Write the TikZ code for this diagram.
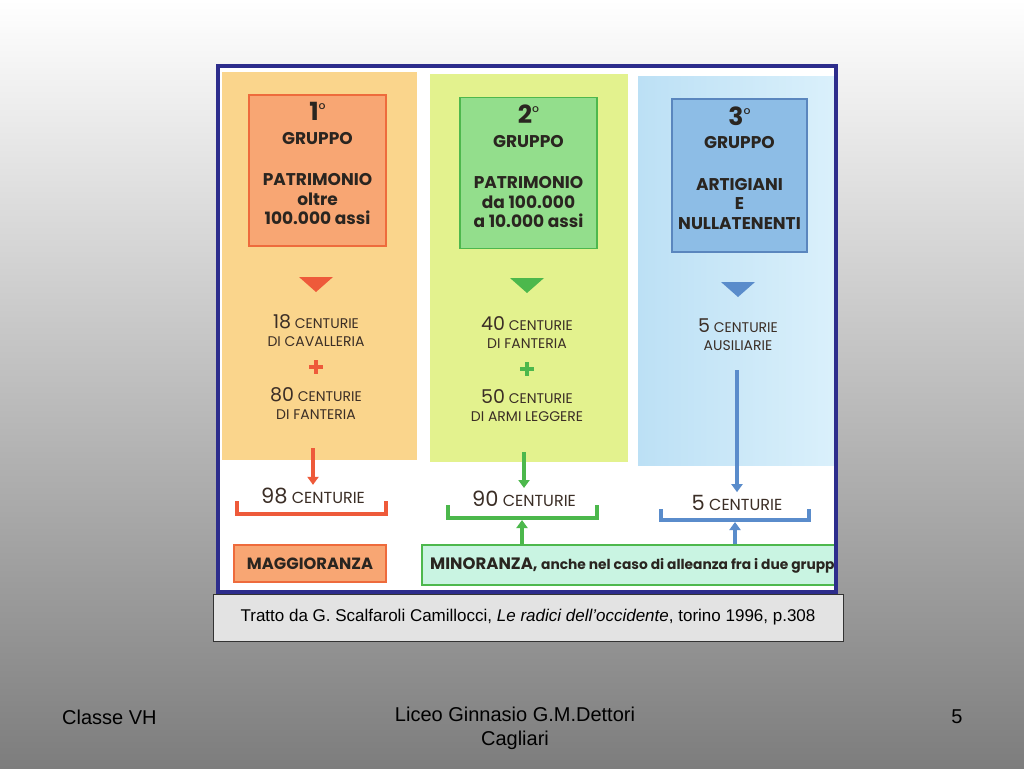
\documentclass[tikz,border=0pt]{standalone}
\usepackage{fontspec}
\setmainfont{Liberation Sans}
\newfontfamily\pop{Poppins}
\usetikzlibrary{arrows.meta}
\definecolor{bgbot}{HTML}{7D7D7D}
\definecolor{navyf}{HTML}{2D2D8C}
\definecolor{orcol}{HTML}{FAD58C}
\definecolor{orbox}{HTML}{F8A673}
\definecolor{orline}{HTML}{EE6B3C}
\definecolor{orsym}{HTML}{EE5A3A}
\definecolor{grcol}{HTML}{E3F28E}
\definecolor{grbox}{HTML}{93DE8C}
\definecolor{grline}{HTML}{4DB84D}
\definecolor{grsym}{HTML}{4CB84C}
\definecolor{blcol}{HTML}{BCE0F5}
\definecolor{blcolr}{HTML}{DAF0FB}
\definecolor{blbox}{HTML}{8DBDE6}
\definecolor{blline}{HTML}{5A86BE}
\definecolor{blsym}{HTML}{5A8CCB}
\definecolor{mint}{HTML}{C9F4E2}
\definecolor{hdr}{HTML}{2A2520}
\definecolor{ctx}{HTML}{3B2E26}
\definecolor{capbg}{HTML}{E3E3E3}
\newcommand\bnum[1]{{\fontsize{19}{18}\selectfont #1}}
\newcommand\gnum[1]{{\fontsize{25}{20}\selectfont #1}\raisebox{5pt}{\mdseries\fontsize{17}{12}\selectfont °}}
\tikzset{
  gbox/.style={minimum width=137pt, minimum height=151pt, line width=1.5pt, inner sep=0pt},
  gtext/.style={font=\pop\bfseries\fontsize{17}{19.5}\selectfont, align=center, text=hdr, inner sep=0pt},
  cent/.style={font=\pop\fontsize{14}{18}\selectfont, align=center, text=ctx, inner sep=0pt},
  tot/.style={font=\pop\fontsize{16}{18}\selectfont, text=ctx, inner sep=0pt},
  arr/.style={line width=3.5pt, -{Triangle[width=11pt,length=8pt]}},
  brk/.style={line width=3.5pt, line join=miter},
  foot/.style={font=\fontsize{20}{24}\selectfont, text=black, inner sep=0pt, align=center},
}
\begin{document}
\begin{tikzpicture}[x=1pt,y=-1pt]
\useasboundingbox (0,0) rectangle (1024,768);
\shade[top color=white, bottom color=bgbot] (0,0) rectangle (1024,768);
% scanned picture area
\fill[white] (218,66) rectangle (836,592);
\begin{scope}
\clip (220,68) rectangle (834,590);
\fill[orcol] (222,72) rectangle (417,460);
\fill[grcol] (430,74) rectangle (628,462);
\shade[left color=blcol, right color=blcolr] (638,76) rectangle (834,465);
% header boxes
\node[gbox, fill=orbox, draw=orline] (g1) at (317.5,170.5) {};
\node[gbox, fill=grbox, draw=grline] (g2) at (528.5,173) {};
\node[gbox, fill=blbox, draw=blline, minimum width=135pt, minimum height=153pt] (g3) at (739.5,175.5) {};
\node[gtext, anchor=north] (g1t) at ([yshift=-8pt]g1.north) {\gnum{1}\\[4pt]GRUPPO\\[22pt]PATRIMONIO\\oltre\\100.000 assi};
\node[gtext, anchor=north] (g2t) at ([yshift=-8pt]g2.north) {\gnum{2}\\[4pt]GRUPPO\\[22pt]PATRIMONIO\\da 100.000\\a 10.000 assi};
\node[gtext, anchor=north] (g3t) at ([yshift=-8pt]g3.north) {\gnum{3}\\[4pt]GRUPPO\\[22pt]ARTIGIANI\\E\\NULLATENENTI};
% triangles
\fill[orsym] (299,277) -- (333,277) -- (316,292) -- cycle;
\fill[grsym] (510,278) -- (544,278) -- (527,293) -- cycle;
\fill[blsym] (721,282) -- (755,282) -- (738,297) -- cycle;
% centurie texts
\node[cent] (c1a) at (316,331) {\bnum{18} CENTURIE\\DI CAVALLERIA};
\node[cent] (c1b) at (316,404) {\bnum{80} CENTURIE\\DI FANTERIA};
\node[cent] (c2a) at (527,333) {\bnum{40} CENTURIE\\DI FANTERIA};
\node[cent] (c2b) at (527,406) {\bnum{50} CENTURIE\\DI ARMI LEGGERE};
\node[cent] (c3a) at (738,335) {\bnum{5} CENTURIE\\AUSILIARIE};
% plus signs
\draw[orsym, line width=4pt] (309,367) -- (323,367) (316,360) -- (316,374);
\draw[grsym, line width=4pt] (520,369) -- (534,369) (527,362) -- (527,376);
% totals
\node[tot] (t1) at (313,496) {\bnum{\fontsize{21}{18}\selectfont 98} CENTURIE};
\node[tot] (t2) at (524,499) {\bnum{\fontsize{21}{18}\selectfont 90} CENTURIE};
\node[tot] (t3) at (737,503) {\bnum{\fontsize{21}{18}\selectfont 5} CENTURIE};
\coordinate (s1) at (313,448);
\coordinate (s2) at (524,452);
\coordinate (s3) at (737,370);
\draw[arr, orsym] (s1) -- ([yshift=3pt]t1.north);
\draw[arr, grsym] (s2) -- ([yshift=3pt]t2.north);
\draw[arr, blsym] (s3) -- ([yshift=3pt]t3.north);
% brackets
\draw[brk, orsym] (237,501) -- (237,514) -- (386,514) -- (386,501);
\draw[brk, grsym] (448,505) -- (448,518) -- (597,518) -- (597,505);
\draw[brk, blsym] (661,509) -- (661,520) -- (809,520) -- (809,509);
\coordinate (b2) at (522,520);
\coordinate (b3) at (735,522);
% bottom boxes
\node[draw=orline, fill=orbox, line width=1.5pt, minimum width=152pt, minimum height=37pt, inner sep=0pt,
      font=\pop\bfseries\fontsize{16.3}{18}\selectfont, text=hdr] (magg) at (310,563.5) {MAGGIORANZA};
\node[draw=grline, fill=mint, line width=1.5pt, minimum width=420pt, minimum height=40pt, inner sep=0pt] (mino) at (632,565) {};
\node[anchor=west, inner sep=0pt, text=hdr, font=\pop\bfseries\fontsize{16.5}{18}\selectfont] (minot) at (430,566)
  {MINORANZA, {\fontsize{13.8}{18}\selectfont anche nel caso di alleanza fra i due gruppi}};
\draw[arr, grsym] (mino.north -| b2) -- (b2);
\draw[arr, blsym] (mino.north -| b3) -- (b3);
\end{scope}
\draw[navyf, line width=4.5pt] (218,66) rectangle (836,592);
% caption
\node[draw=black!80, fill=capbg, line width=1pt, minimum width=630pt, minimum height=47pt, inner sep=0pt,
      font=\fontsize{17}{18}\selectfont] (cap) at (528,617.5)
  {Tratto da G. Scalfaroli Camillocci, \textit{Le radici dell’occidente}, torino 1996, p.308};
% footer
\node[foot, anchor=west] (fl) at (62,717) {Classe VH};
\node[foot, anchor=north] (fc) at (515,707) {Liceo Ginnasio G.M.Dettori\\Cagliari};
\node[foot] (fr) at (957,717) {5};
\end{tikzpicture}
\end{document}
